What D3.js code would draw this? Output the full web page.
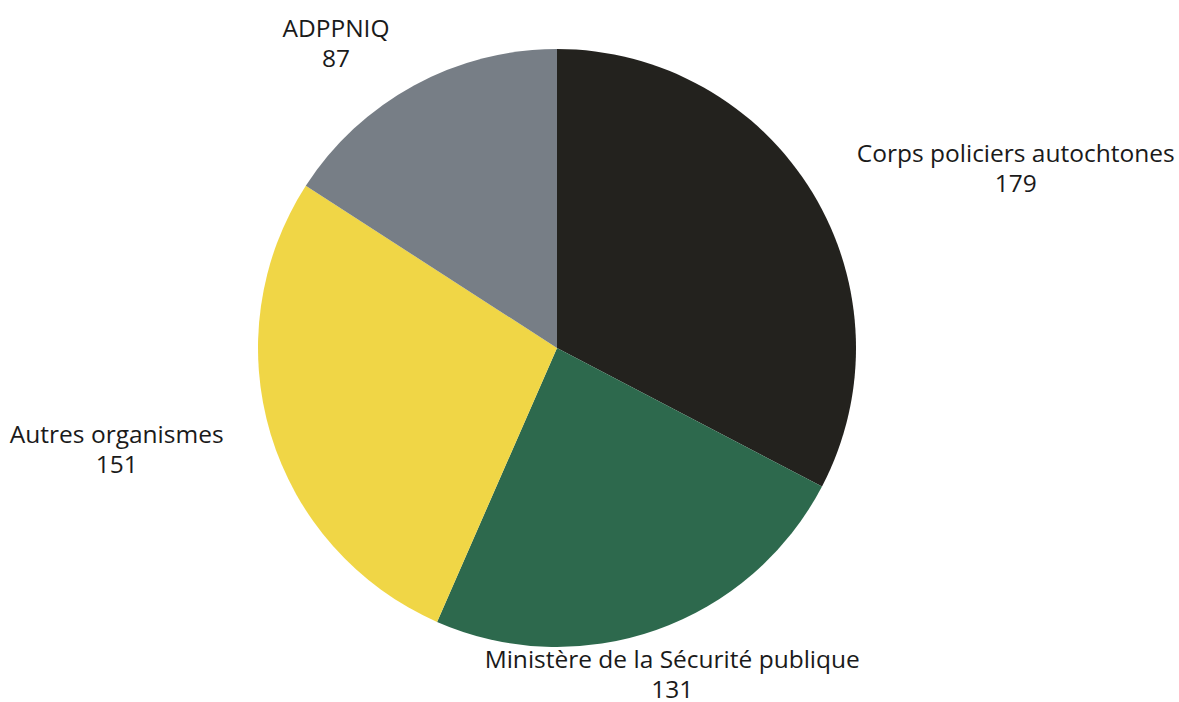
<!DOCTYPE html>
<html><head><meta charset="utf-8">
<script src="https://cdn.jsdelivr.net/npm/d3@7"></script>
<style>html,body{margin:0;padding:0;background:#fff;}svg{display:block;}</style>
</head><body>
<script>
const categories = ["Corps policiers autochtones", "Ministère de la Sécurité publique", "Autres organismes", "ADPPNIQ"];
const values = [179, 131, 151, 87];
const colors = ["#23221e", "#2d694d", "#f0d646", "#777e86"];
// label block offsets from outer-edge point of each slice's mid angle
const labelOffsets = [[203, -31], [16, 38], [-154, 9], [-78, -48]];

const W = 1179, H = 702, cx = 557, cy = 348, R = 299;
const svg = d3.select("body").append("svg").attr("width", W).attr("height", H);
const g = svg.append("g").attr("transform", `translate(${cx},${cy})`);
const data = categories.map((c, i) => ({ name: c, value: values[i], color: colors[i], off: labelOffsets[i] }));
const pie = d3.pie().value(d => d.value).sort(null);
const arcs = pie(data);
const arc = d3.arc().innerRadius(0).outerRadius(R);
const edge = d3.arc().innerRadius(R).outerRadius(R);

g.selectAll("path").data(arcs).join("path")
  .attr("d", arc).attr("fill", d => d.data.color);

const lab = g.selectAll("text").data(arcs).join("text")
  .attr("text-anchor", "middle")
  .attr("font-family", "'Open Sans', sans-serif")
  .attr("font-size", 24.5)
  .attr("fill", "#1a1a1a")
  .attr("transform", d => {
    const [x, y] = edge.centroid(d);
    return `translate(${x + d.data.off[0]},${y + d.data.off[1]})`;
  });
lab.append("tspan").attr("x", 0).attr("y", 0).text(d => d.data.name);
lab.append("tspan").attr("x", 0).attr("y", 30).text(d => d.data.value);
</script>
</body></html>
